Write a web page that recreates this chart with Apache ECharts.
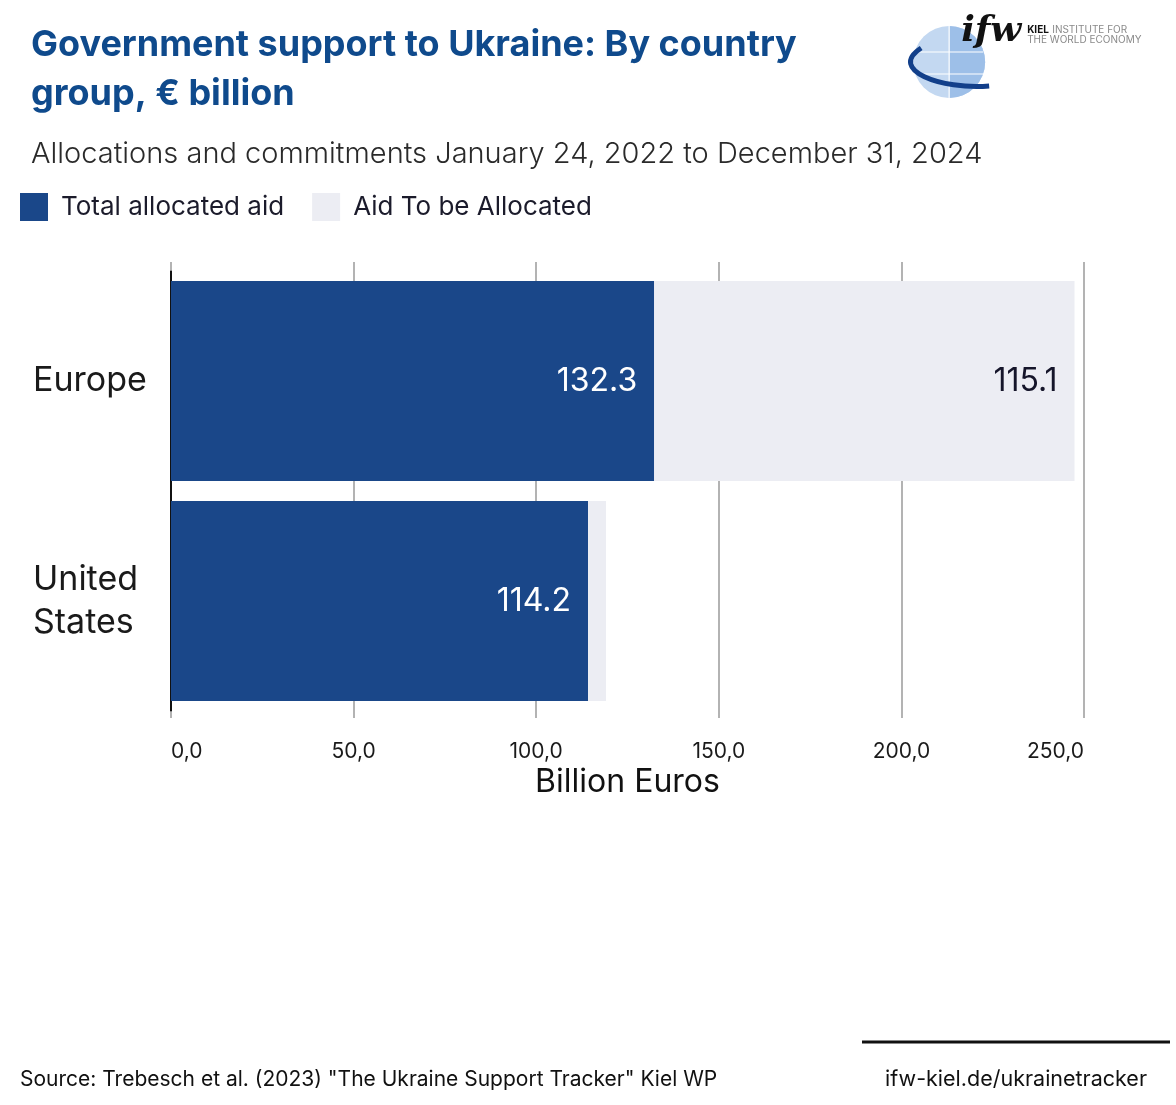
<!DOCTYPE html>
<html><head><meta charset="utf-8">
<script src="https://cdn.jsdelivr.net/npm/echarts@6/dist/echarts.min.js"></script>
<style>html,body{margin:0;padding:0;background:#fff}#c{width:1176px;height:1105px}</style>
</head><body><div id="c"></div>
<script>
const categories = ['Europe', 'United States'];
const allocated = [132.3, 114.2];
const toBeAllocated = [115.1, 4.9];
const seriesNames = ['Total allocated aid', 'Aid To be Allocated'];
const xTicks = [0, 50, 100, 150, 200, 250];

const FONT = 'Inter, Roboto, "Noto Sans", sans-serif';
const BLUE = '#1a4789';
const LIGHT = '#ecedf3';
const chart = echarts.init(document.getElementById('c'), null, {renderer: 'canvas'});
const option = {
  animation: false,
  textStyle: {fontFamily: FONT},
  title: [
    {text: 'Government support to Ukraine: By country\ngroup, € billion', left: 31, top: 21, padding: 0,
     textStyle: {fontFamily: FONT, fontSize: 36, fontWeight: 'bold', color: '#0f4a8c', lineHeight: 49}},
    {text: 'Allocations and commitments January 24, 2022 to December 31, 2024', left: 31, top: 140, padding: 0,
     textStyle: {fontFamily: FONT, fontSize: 29, fontWeight: 300, color: '#2a2a2a'}}
  ],
  legend: {
    left: 20, top: 193, padding: 0, itemWidth: 28, itemHeight: 28, itemGap: 28, icon: 'rect',
    data: seriesNames,
    textStyle: {fontFamily: FONT, fontSize: 26, color: '#1b1b2b', padding: [3, 0, 0, 8]}
  },
  grid: {left: 171, right: 1176 - 1084, top: 271, bottom: 1105 - 711, containLabel: false},
  xAxis: [{
    type: 'value', min: xTicks[0], max: xTicks[xTicks.length - 1], interval: 50,
    axisLine: {show: false},
    axisTick: {show: true, length: 7, lineStyle: {color: '#9a9a9a', width: 1.5}},
    splitLine: {show: true, lineStyle: {color: '#9a9a9a', width: 1.5}},
    axisLabel: {fontFamily: FONT, fontSize: 21, color: '#1a1a1a', margin: 30,
      alignMinLabel: 'left', alignMaxLabel: 'right',
      formatter: v => v.toFixed(1).replace('.', ',')},
    name: 'Billion Euros', nameLocation: 'middle', nameGap: 55,
    nameTextStyle: {fontFamily: FONT, fontSize: 32, color: '#111'}
  }, {
    type: 'value', position: 'top', min: xTicks[0], max: xTicks[xTicks.length - 1], interval: 50,
    axisLine: {show: false},
    axisTick: {show: true, length: 9, lineStyle: {color: '#9a9a9a', width: 1.5}},
    splitLine: {show: false}, axisLabel: {show: false}
  }],
  yAxis: {
    type: 'category', inverse: true, data: categories,
    axisLine: {show: true, lineStyle: {color: '#111', width: 2}},
    axisTick: {show: false},
    axisLabel: {fontFamily: FONT, fontSize: 34, color: '#1a1a1a', align: 'left', margin: 138,
      lineHeight: 43, padding: [5, 0, 0, 0], formatter: v => v.replace(' ', '\n')}
  },
  series: [
    {name: seriesNames[0], type: 'bar', stack: 'total', data: allocated, barWidth: 200,
     itemStyle: {color: BLUE},
     label: {show: true, position: 'insideRight', distance: 17, fontFamily: FONT, fontSize: 32, color: '#fff',
       padding: [4, 0, 0, 0], formatter: p => p.value.toFixed(1)}},
    {name: seriesNames[1], type: 'bar', stack: 'total', data: toBeAllocated, barWidth: 200,
     itemStyle: {color: LIGHT},
     label: {show: true, position: 'insideRight', distance: 17, fontFamily: FONT, fontSize: 32, color: '#15152a',
       padding: [4, 0, 0, 0], formatter: p => p.value > 10 ? p.value.toFixed(1) : ''}}
  ],
  graphic: [
    // footer
    {type: 'line', shape: {x1: 862, y1: 1042, x2: 1170, y2: 1042}, style: {stroke: '#111', lineWidth: 3}},
    {type: 'text', left: 20, top: 1069, style: {text: 'Source: Trebesch et al. (2023) "The Ukraine Support Tracker" Kiel WP',
      font: '21px ' + FONT, fill: '#111'}},
    {type: 'text', right: 29, top: 1069, style: {text: 'ifw-kiel.de/ukrainetracker', font: '21.5px ' + FONT, fill: '#111'}},
    // logo
    {type: 'group', left: 908, top: 14, children: [
      {type: 'circle', shape: {cx: 44, cy: 50, r: 36}, style: {fill: '#c3d8f1'}},
      {type: 'sector', shape: {cx: 44, cy: 50, r: 36, startAngle: -Math.PI / 2, endAngle: Math.PI / 2}, style: {fill: '#9dbfe8'}},
      {type: 'line', shape: {x1: 10, y1: 40, x2: 78, y2: 40}, style: {stroke: '#fff', lineWidth: 1.2}},
      {type: 'line', shape: {x1: 12, y1: 62, x2: 78, y2: 62}, style: {stroke: '#fff', lineWidth: 1.2}},
      {type: 'line', shape: {x1: 44, y1: 14, x2: 44, y2: 86}, style: {stroke: '#fff', lineWidth: 1.2}},
      {type: 'bezierCurve', shape: {x1: 16, y1: 36, cpx1: -18, cpy1: 58, cpx2: 36, cpy2: 78, x2: 84, y2: 74},
       style: {stroke: '#123f8a', lineWidth: 5, fill: null}},
      {type: 'text', left: 56, top: 2, style: {text: 'ifw', font: 'italic 900 36px "DejaVu Serif", serif', fill: '#111'}},
      {type: 'text', left: 122, top: 12, style: {rich: {k: {font: 'bold 10px ' + FONT, fill: '#111'}, t: {font: '10px ' + FONT, fill: '#8a8a8a'}},
        text: '{k|KIEL} {t|INSTITUTE FOR}'}},
      {type: 'text', left: 122, top: 23, style: {text: 'THE WORLD ECONOMY', font: '10px ' + FONT, fill: '#8a8a8a'}}
    ]}
  ]
};
chart.setOption(option);
</script></body></html>
